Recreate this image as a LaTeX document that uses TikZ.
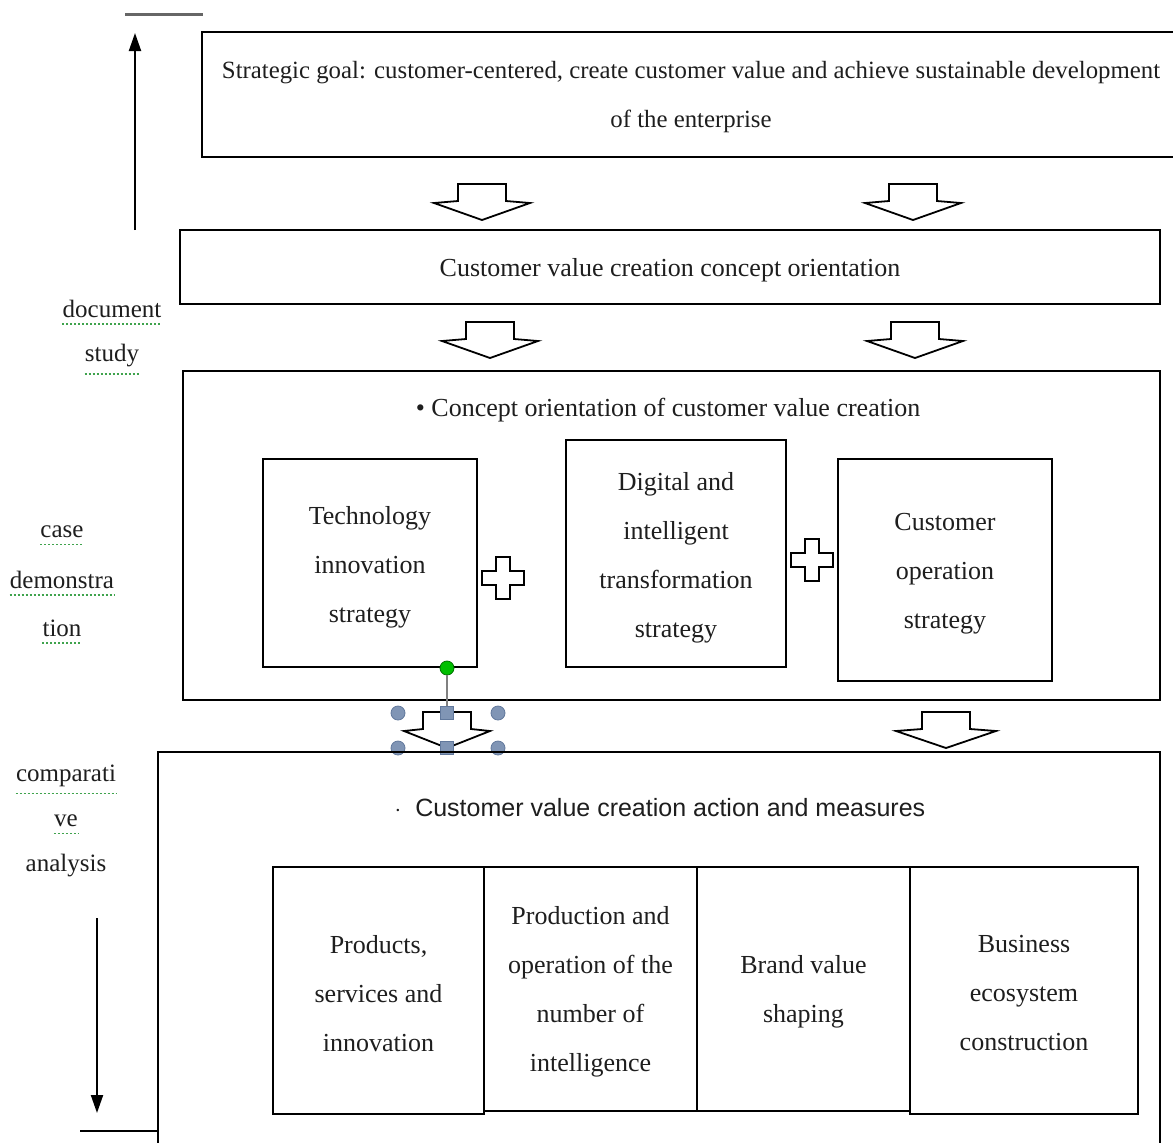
\documentclass[tikz,border=0pt]{standalone}
\usepackage{fontspec}
\setmainfont{Liberation Serif}
\newfontfamily\arialish{Liberation Sans}
\usetikzlibrary{fit,arrows.meta}
\definecolor{txt}{HTML}{1E1E1E}
\definecolor{handle}{HTML}{8095B5}
\definecolor{handleline}{HTML}{61789C}
\definecolor{spell}{HTML}{3FA34D}
\tikzset{
  box/.style={draw=black, line width=1pt, inner sep=0pt},
  boxtext/.style={inner sep=0pt, align=center, text=txt,
    font=\fontsize{13}{24.5}\selectfont},
  lbl/.style={text=txt, align=center, font=\fontsize{12.5}{14}\selectfont, inner sep=0pt},
  blk/.style={draw=black, line width=0.9pt, fill=white, line join=miter},
  spellline/.style={draw=spell, line width=0.8pt, dash pattern=on 1pt off 1pt},
  hcirc/.style={circle, fill=handle, draw=handleline, line width=0.4pt, minimum size=7pt, inner sep=0pt},
  hsq/.style={rectangle, fill=handle, draw=handleline, line width=0.4pt, minimum size=6.5pt, inner sep=0pt},
}
% block down arrow: #1 centre x, #2 top y, #3 half wing
\newcommand{\blockdown}[3]{%
  \draw[blk] (#1-24,#2) -- (#1+24,#2) -- (#1+24,#2+17) -- (#1+#3,#2+19) -- (#1,#2+36)
    -- (#1-#3,#2+19) -- (#1-24,#2+17) -- cycle;}
% plus sign
\newcommand{\plussign}[2]{%
  \draw[blk, line width=0.9pt] (#1-7,#2-21) -- (#1+7,#2-21) -- (#1+7,#2-7) -- (#1+21,#2-7)
   -- (#1+21,#2+7) -- (#1+7,#2+7) -- (#1+7,#2+21) -- (#1-7,#2+21) -- (#1-7,#2+7)
   -- (#1-21,#2+7) -- (#1-21,#2-7) -- (#1-7,#2-7) -- cycle;}
\begin{document}
\begin{tikzpicture}[x=0.5pt,y=-0.5pt]
\useasboundingbox[fill=white] (0,0) rectangle (1173,1142);

% ---- left side method arrows and labels
\draw[gray!80!black, line width=1.5pt] (125,14) -- (203,14);
\coordinate (upS) at (135,230);
\coordinate (upE) at (135,33);
\draw[line width=1pt, -{Triangle[length=9pt,width=6pt]}] (upS) -- (upE);

\node[lbl] (doc1) at (112,309) {document};
\node[lbl] (doc2) at (112,356) {study};
\node[lbl] (case1) at (62,532) {case};
\node[lbl] (case2) at (62,580) {demonstra};
\node[lbl] (case3) at (62,628) {tion};
\node[lbl] (cmp1) at (66,776) {comparati};
\node[lbl] (cmp2) at (66,821) {ve};
\node[lbl] (cmp3) at (66,866) {analysis};
\foreach \n in {doc1,doc2,case1,case2,case3,cmp1,cmp2}
  \draw[spellline] ([yshift=-3pt]\n.south west) -- ([yshift=-3pt]\n.south east);

\coordinate (dnS) at (97,918);
\coordinate (dnE) at (97,1113);
\draw[line width=1pt, -{Triangle[length=9pt,width=6pt]}] (dnS) -- (dnE);
\draw[line width=1pt] (80,1131) -- (158,1131);

% ---- top box (open on the right)
\draw[line width=1pt] (1180,32) -- (202,32) -- (202,157) -- (1180,157);
\node[lbl, font=\fontsize{12.4}{24.5}\selectfont] (goal) at (691,97)
  {Strategic goal: customer-centered, create customer value and achieve sustainable development\\ of the enterprise};

\blockdown{482}{184}{48}
\blockdown{913}{184}{48}

% ---- concept orientation box
\node[box, fit={(180,230) (1160,304)}] (orient) {};
\node[boxtext] (orientT) at ([yshift=-1.5pt]orient.center) {Customer value creation concept orientation};

\blockdown{490}{322}{48}
\blockdown{915}{322}{48}

% ---- strategy box
\node[box, fit={(183,371) (1160,700)}] (strat) {};
\node[lbl, font=\fontsize{13}{14}\selectfont] (stratT) at (668,410) {\textbullet\ Concept orientation of customer value creation};
\node[box, fit={(263,459) (477,667)}] (tech) {};
\node[boxtext] (techT) at ([yshift=-2pt]tech.center) {Technology\\ innovation\\ strategy};
\node[box, fit={(566,440) (786,667)}] (digi) {};
\node[boxtext] (digiT) at ([yshift=-2pt]digi.center) {Digital and\\ intelligent\\ transformation\\ strategy};
\node[box, fit={(838,459) (1052,681)}] (custop) {};
\node[boxtext] (custopT) at ([yshift=-2pt]custop.center) {Customer\\ operation\\ strategy};
\plussign{503}{578}
\plussign{812}{560}

% ---- selected arrow with handles
\blockdown{447}{712}{43}
\node[circle, fill=green!75!black, draw=green!45!black, minimum size=7pt, inner sep=0pt] (rot) at (447,668) {};
\node[hsq] (hTop) at (447,713) {};
\draw[gray, line width=0.6pt] (rot) -- (hTop);
\node[hcirc] (h1) at (398,713) {};
\node[hcirc] (h2) at (498,713) {};
\node[hcirc] (h3) at (398,748) {};
\node[hcirc] (h4) at (498,748) {};
\node[hsq] (hBot) at (447,748) {};

\blockdown{946}{712}{50}

% ---- action box (open at the bottom)
\draw[line width=1pt] (158,1150) -- (158,752) -- (1160,752) -- (1160,1150);
\node[lbl, font=\arialish\fontsize{12.5}{14}\selectfont] (actT) at (660,808) {$\cdot$\ \ Customer value creation action and measures};
\node[box, fit={(273,867) (484,1114)}] (b1) {};
\node[boxtext] (b1T) at ([yshift=-1.5pt]b1.center) {Products,\\ services and\\ innovation};
\node[box, fit={(484,867) (697,1111)}] (b2) {};
\node[boxtext] (b2T) at ([yshift=-1.5pt]b2.center) {Production and\\ operation of the\\ number of\\ intelligence};
\node[box, fit={(697,867) (910,1111)}] (b3) {};
\node[boxtext] (b3T) at ([yshift=-1.5pt]b3.center) {Brand value\\ shaping};
\node[box, fit={(910,867) (1138,1114)}] (b4) {};
\node[boxtext] (b4T) at ([yshift=-1.5pt]b4.center) {Business\\ ecosystem\\ construction};
\end{tikzpicture}
\end{document}
